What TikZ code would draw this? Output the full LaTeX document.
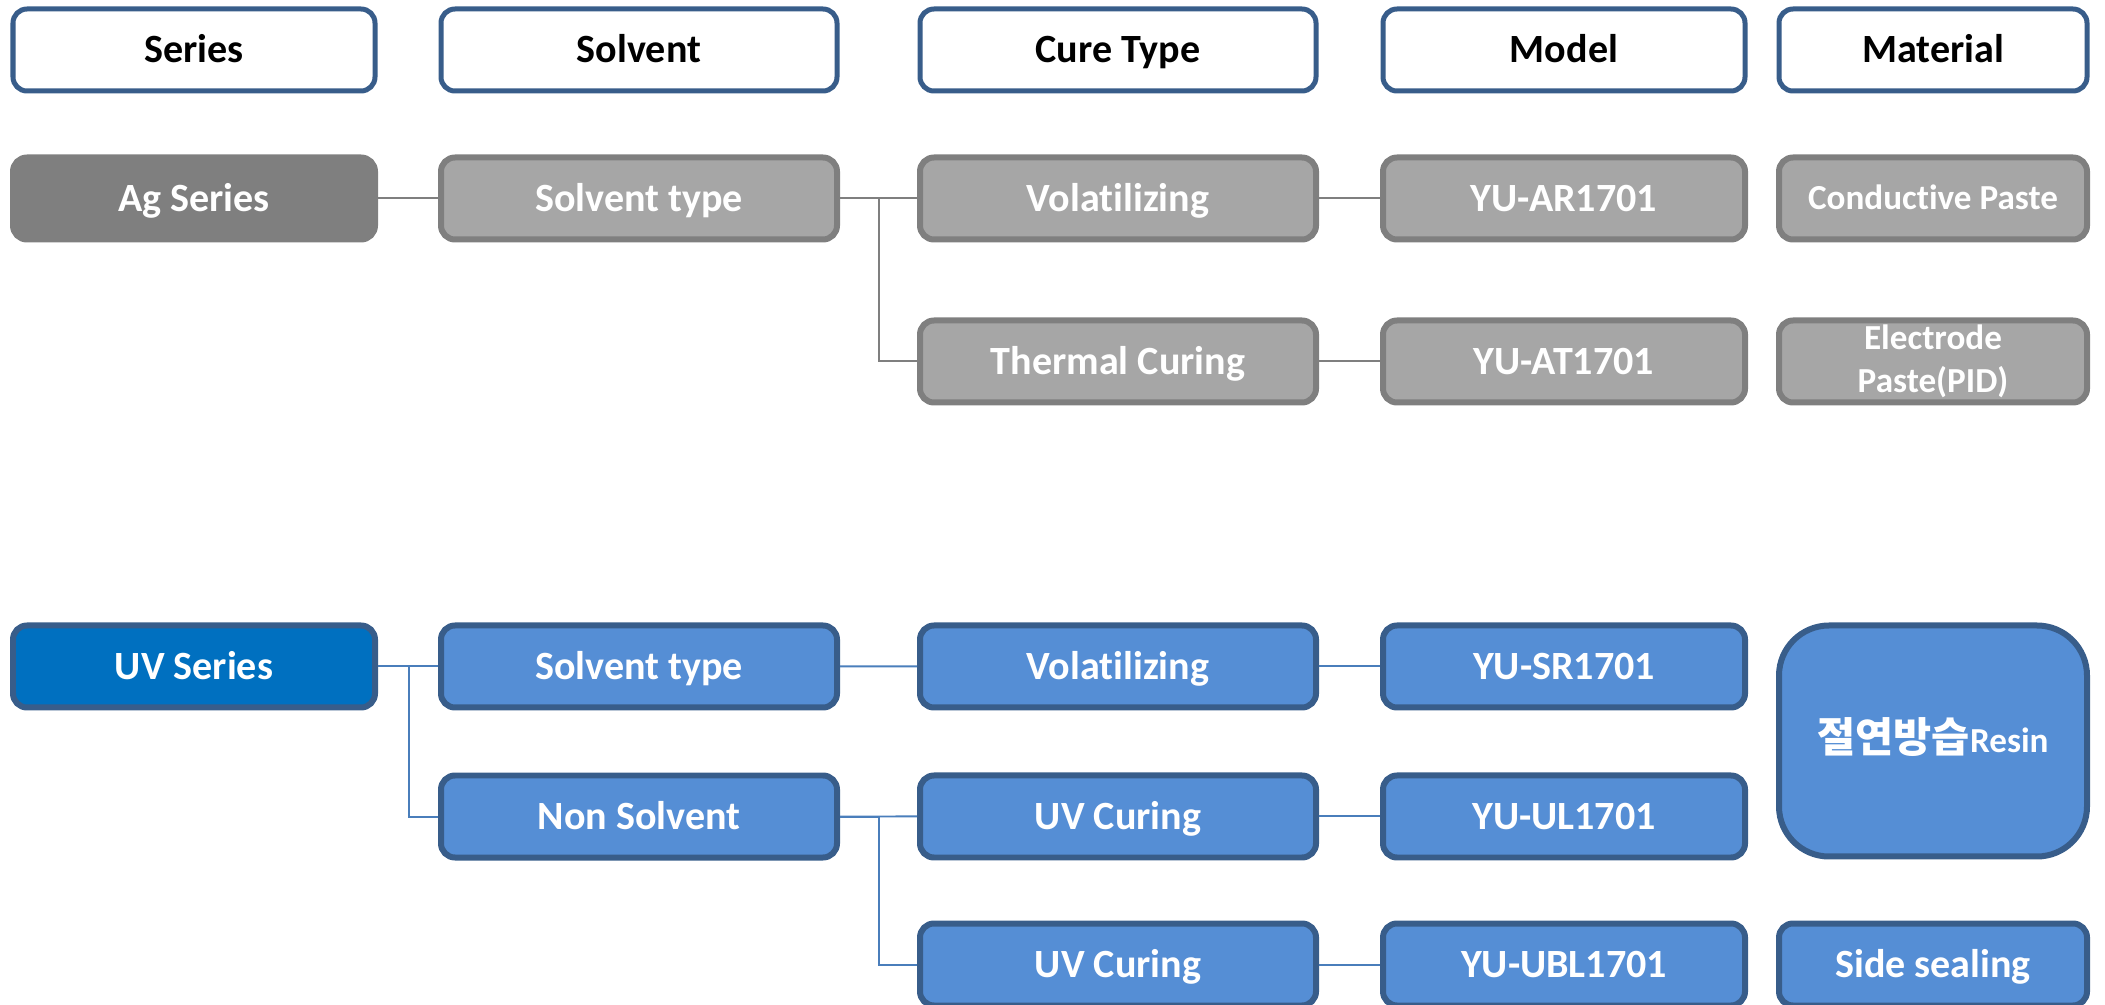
\documentclass[tikz,border=0pt]{standalone}
\usepackage{fontspec}
\setmainfont{Carlito}[Ligatures=NoCommon]
\newfontfamily\krfont{Noto Sans CJK KR}
\usetikzlibrary{positioning}
\definecolor{hdrline}{RGB}{56,93,138}
\definecolor{agfill}{RGB}{127,127,127}
\definecolor{grayfill}{RGB}{166,166,166}
\definecolor{grayline}{RGB}{127,127,127}
\definecolor{uvfill}{RGB}{0,112,192}
\definecolor{bluefill}{RGB}{85,142,213}
\definecolor{blueline}{RGB}{56,93,138}
\definecolor{bluewire}{RGB}{74,126,187}

\begin{document}
\begin{tikzpicture}[
    font=\fontsize{22.8}{27}\selectfont\bfseries,
    box/.style={rounded corners=0.28cm, minimum height=1.64cm, inner sep=1pt, align=center,
                text height=19pt, text depth=4.3pt},
    hdr/.style={box, draw=hdrline, line width=0.1cm, fill=white, text=black},
    grybox/.style={box, draw=grayline, line width=0.12cm, fill=grayfill, text=white},
    blubox/.style={box, draw=blueline, line width=0.12cm, fill=bluefill, text=white},
    narrow/.style={minimum width=7.24cm},
    wide/.style={minimum width=7.92cm},
    slim/.style={minimum width=6.16cm},
    smalltext/.style={font=\fontsize{20}{24.4}\selectfont\bfseries, text height=17pt, text depth=4.1pt},
    gwire/.style={draw=grayline, line width=0.04cm},
    bwire/.style={draw=bluewire, line width=0.04cm}
  ]
  \useasboundingbox (0,0) rectangle (42.1,-20.1);

  % column heads
  \node (hseries)   [hdr, narrow] at (3.88,-1.0)          {Series};
  \node (hsolvent)  [hdr, wide,   right=1.22cm of hseries]  {Solvent};
  \node (hcure)     [hdr, wide,   right=1.56cm of hsolvent] {Cure Type};
  \node (hmodel)    [hdr, narrow, right=1.24cm of hcure]    {Model};
  \node (hmaterial) [hdr, slim,   right=0.58cm of hmodel]   {Material};

  % Ag series
  \node (agseries)  [box, narrow, fill=agfill, draw=agfill, line width=0.12cm, text=white, below=1.22cm of hseries] {Ag Series};
  \node (agsolvent) [grybox, wide,   below=1.22cm of hsolvent] {Solvent type};
  \node (agvol)     [grybox, wide,   below=1.22cm of hcure]    {Volatilizing};
  \node (agtherm)   [grybox, wide,   below=1.5cm of agvol]     {Thermal Curing};
  \node (agar)      [grybox, narrow, below=1.22cm of hmodel]   {YU-AR1701};
  \node (agat)      [grybox, narrow, below=1.5cm of agar]      {YU-AT1701};
  \node (agcond)    [grybox, slim, smalltext, below=1.22cm of hmaterial] {Conductive Paste};
  \node (agelec)    [grybox, slim, smalltext, text height=, text depth=, below=1.5cm of agcond] {Electrode\\Paste(PID)};

  % UV series
  \node (uvseries)  [blubox, narrow, fill=uvfill, below=7.6cm of agseries] {UV Series};
  \node (uvsolvent) [blubox, wide,   below=7.6cm of agsolvent] {Solvent type};
  \node (uvnon)     [blubox, wide,   below=1.24cm of uvsolvent] {Non Solvent};
  \node (uvvol)     [blubox, wide,   below=4.34cm of agtherm]  {Volatilizing};
  \node (uvcure)    [blubox, wide,   below=1.24cm of uvvol]    {UV Curing};
  \node (uvcureb)   [blubox, wide,   below=1.2cm of uvcure]    {UV Curing};
  \node (uvsr)      [blubox, narrow, below=4.34cm of agat]     {YU-SR1701};
  \node (uvul)      [blubox, narrow, below=1.24cm of uvsr]     {YU-UL1701};
  \node (uvubl)     [blubox, narrow, below=1.2cm of uvul]      {YU-UBL1701};
  \node (uvresin)   [blubox, slim, smalltext, rounded corners=1cm, minimum height=4.62cm, below=4.34cm of agelec]
                    {{\krfont\fontsize{23.6}{28}\selectfont 절연방습}Resin};
  \node (uvside)    [blubox, slim,   below=1.22cm of uvresin]  {Side sealing};

  % connectors
  \draw [gwire] (agseries) -- (agsolvent);
  \draw [gwire] (agsolvent) -- (agvol);
  \draw [gwire] (agsolvent.east) -- ++(0.78,0) |- (agtherm.west);
  \draw [gwire] (agvol) -- (agar);
  \draw [gwire] (agtherm) -- (agat);

  \draw [bwire] (uvseries) -- (uvsolvent);
  \draw [bwire] (uvseries.east) -- ++(0.62,0) |- (uvnon.west);
  \draw [bwire] (uvsolvent) -- (uvvol);
  \draw [bwire] (uvnon) -- (uvcure);
  \draw [bwire] (uvnon.east) -- ++(0.78,0) |- (uvcureb.west);
  \draw [bwire] (uvvol) -- (uvsr);
  \draw [bwire] (uvcure) -- (uvul);
  \draw [bwire] (uvcureb) -- (uvubl);
\end{tikzpicture}
\end{document}
